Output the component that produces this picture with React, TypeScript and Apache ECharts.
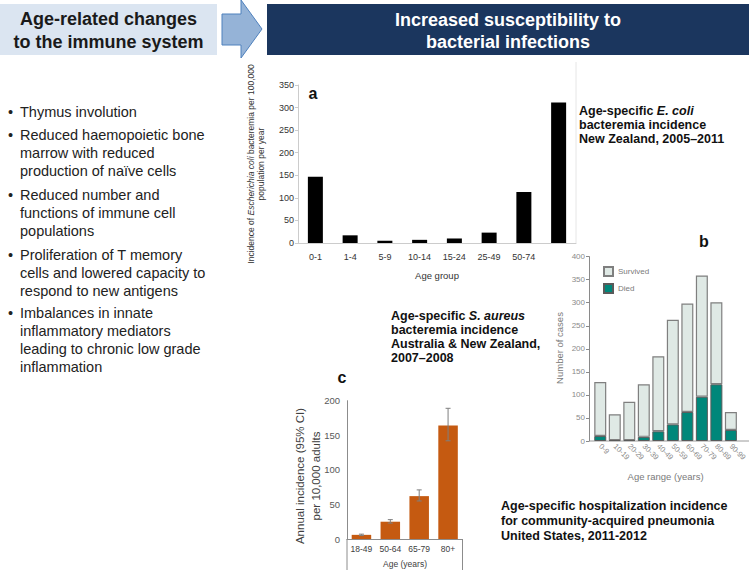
import React, { useEffect, useRef } from "react";
import * as echarts from "echarts";

const FONT = "'Liberation Sans', Arial, Helvetica, sans-serif";

// Chart a: E. coli bacteremia incidence, New Zealand
const aCategories = ["0-1", "1-4", "5-9", "10-14", "15-24", "25-49", "50-74", "75+"];
const aValues = [147, 17, 5, 7, 10, 23, 113, 311];
const aTicks = { min: 0, max: 350, interval: 50 };

// Chart b: community-acquired pneumonia hospitalizations
const bCategories = ["0-9", "10-19", "20-29", "30-39", "40-49", "50-59", "60-69", "70-79", "80-89", "90-99"];
const bDied = [11, 2, 2, 9, 21, 36, 63, 96, 123, 24];
const bSurvived = [117, 56, 83, 114, 163, 227, 235, 263, 178, 39];
const bTicks = { min: 0, max: 400, interval: 50 };

// Chart c: S. aureus bacteremia incidence
const cCategories = ["18-49", "50-64", "65-79", "80+"];
const cValues = [6, 25, 62, 164];
const cLow = [5, 23, 55, 142];
const cHigh = [7, 28, 71, 189];
const cTicks = { min: 0, max: 200, interval: 50 };

const bullets = [
  ["Thymus involution"],
  ["Reduced haemopoietic bone", "marrow with reduced", "production of naïve cells"],
  ["Reduced number and", "functions of immune cell", "populations"],
  ["Proliferation of T memory", "cells and lowered capacity to", "respond to new antigens"],
  ["Imbalances in innate", "inflammatory mediators", "leading to chronic low grade", "inflammation"],
];
const bulletTops = [102.5, 126, 186, 246, 304];

export default function App() {
  const ref = useRef<HTMLDivElement>(null);
  useEffect(() => {
    if (!ref.current) return;
    const chart = echarts.init(ref.current, undefined, { renderer: "svg" });

    const boldRich = {
      b: { fontFamily: FONT, fontWeight: "bold", fontSize: 12.5, fill: "#111", color: "#111", lineHeight: 14 },
      i: { fontFamily: FONT, fontWeight: "bold", fontStyle: "italic", fontSize: 12.5, fill: "#111", color: "#111", lineHeight: 14 },
    };

    const graphics: any[] = [
      // header boxes
      { type: "rect", shape: { x: 0, y: 4, width: 217, height: 51 }, style: { fill: "#dbe5f1" }, z: 1 },
      { type: "rect", shape: { x: 267, y: 4, width: 482, height: 51 }, style: { fill: "#1b365e" }, z: 1 },
      {
        type: "polygon",
        shape: { points: [[222, 14], [241, 14], [241, 0], [262, 29], [241, 58], [241, 45], [222, 45]] },
        style: { fill: "#95b3d7", stroke: "#4f81bd", lineWidth: 1 },
        z: 2,
      },
      {
        type: "text", x: 108.5, y: 30.5, z: 3,
        style: { text: "Age-related changes\nto the immune system", fontFamily: FONT, fontWeight: "bold", fontSize: 18, lineHeight: 22.5, fill: "#1a1a1a", align: "center", verticalAlign: "middle" },
      },
      {
        type: "text", x: 508, y: 31, z: 3,
        style: { text: "Increased susceptibility to\nbacterial infections", fontFamily: FONT, fontWeight: "bold", fontSize: 18, lineHeight: 22.5, fill: "#ffffff", align: "center", verticalAlign: "middle" },
      },
      // faint image edge of panel a
      { type: "line", shape: { x1: 576, y1: 62, x2: 576, y2: 243 }, style: { stroke: "#e6e6e6", lineWidth: 1 } },
      // panel labels
      { type: "text", x: 313, y: 93, z: 20, style: { text: "a", fontFamily: FONT, fontWeight: "bold", fontSize: 16, fill: "#111", align: "center", verticalAlign: "middle" } },
      { type: "text", x: 704, y: 241, z: 20, style: { text: "b", fontFamily: FONT, fontWeight: "bold", fontSize: 16, fill: "#111", align: "center", verticalAlign: "middle" } },
      { type: "text", x: 342, y: 377, z: 20, style: { text: "c", fontFamily: FONT, fontWeight: "bold", fontSize: 16, fill: "#111", align: "center", verticalAlign: "middle" } },
      // rotated y-axis name of a
      {
        type: "text", x: 256, y: 164, rotation: Math.PI / 2,
        style: {
          text: "{n|Incidence of }{i|Escherichia coli}{n| bacteremia per 100,000}\n{n|population per year}",
          align: "center", verticalAlign: "middle",
          rich: {
            n: { fontFamily: FONT, fontSize: 8.5, fill: "#333", color: "#333", lineHeight: 10 },
            i: { fontFamily: FONT, fontSize: 8.5, fontStyle: "italic", fill: "#333", color: "#333", lineHeight: 10 },
          },
        },
      },
      // rotated y-axis name of b
      {
        type: "text", x: 559, y: 348, rotation: Math.PI / 2,
        style: { text: "Number of cases", fontFamily: FONT, fontSize: 9.5, fill: "#7a7a7a", align: "center", verticalAlign: "middle" },
      },
      // rotated y-axis name of c
      {
        type: "text", x: 308, y: 476, rotation: Math.PI / 2,
        style: { text: "Annual incidence (95% CI)\nper 10,000 adults", fontFamily: FONT, fontSize: 11.5, lineHeight: 16, fill: "#404040", align: "center", verticalAlign: "middle" },
      },
      // c category table borders
      { type: "line", shape: { x1: 347, y1: 539, x2: 347, y2: 570 }, style: { stroke: "#8c8c8c", lineWidth: 1 } },
      { type: "line", shape: { x1: 462.5, y1: 539, x2: 462.5, y2: 570 }, style: { stroke: "#8c8c8c", lineWidth: 1 } },
      { type: "text", x: 405, y: 564, style: { text: "Age (years)", fontFamily: FONT, fontSize: 8.5, fill: "#404040", align: "center", verticalAlign: "middle" } },
      // b baseline extension
      { type: "line", shape: { x1: 589, y1: 441, x2: 749, y2: 441 }, style: { stroke: "#9a9a9a", lineWidth: 1 } },
      // description blocks
      {
        type: "text", x: 579, y: 103.5,
        style: { text: "{b|Age-specific }{i|E. coli}\n{b|bacteremia incidence}\n{b|New Zealand, 2005–2011}", align: "left", verticalAlign: "top", rich: boldRich },
      },
      {
        type: "text", x: 391, y: 308.5,
        style: { text: "{b|Age-specific }{i|S. aureus}\n{b|bacteremia incidence}\n{b|Australia & New Zealand,}\n{b|2007–2008}", align: "left", verticalAlign: "top", rich: boldRich },
      },
      {
        type: "text", x: 501, y: 498,
        style: { text: "{b|Age-specific hospitalization incidence}\n{b|for community-acquired pneumonia}\n{b|United States, 2011-2012}", align: "left", verticalAlign: "top", rich: { b: { ...boldRich.b, lineHeight: 15 } } },
      },
    ];

    bullets.forEach((lines, k) => {
      graphics.push({
        type: "text", x: 8, y: bulletTops[k],
        style: { text: "•", fontFamily: FONT, fontSize: 14.5, lineHeight: 18, fill: "#222", align: "left", verticalAlign: "top" },
      });
      graphics.push({
        type: "text", x: 20, y: bulletTops[k],
        style: { text: lines.join("\n"), fontFamily: FONT, fontSize: 14.5, lineHeight: 18, fill: "#222", align: "left", verticalAlign: "top" },
      });
    });

    const option: any = {
      animation: false,
      backgroundColor: "#ffffff",
      textStyle: { fontFamily: FONT },
      grid: [
        { left: 298, top: 85, width: 278, height: 158 },
        { left: 593, top: 256.6, width: 153.3, height: 184.4 },
        { left: 347, top: 400.7, width: 115.5, height: 138.3 },
      ],
      legend: {
        data: ["Survived", "Died"],
        orient: "vertical",
        left: 598, top: 261,
        itemWidth: 9, itemHeight: 9, itemGap: 6,
        icon: "rect",
        textStyle: { fontSize: 8, color: "#7a7a7a", fontFamily: FONT },
      },
      xAxis: [
        {
          type: "category", gridIndex: 0, data: aCategories,
          axisLine: { lineStyle: { color: "#cccccc" } }, axisTick: { show: false },
          axisLabel: { fontSize: 9, color: "#333", margin: 9, interval: 0, formatter: (v: string, i: number) => (i === aCategories.length - 1 ? "" : v) },
          name: "Age group", nameLocation: "middle", nameGap: 27, nameTextStyle: { fontSize: 9.5, color: "#333" },
        },
        {
          type: "category", gridIndex: 1, data: bCategories,
          axisLine: { show: false }, axisTick: { show: false },
          axisLabel: { fontSize: 7.5, color: "#888", margin: 4, rotate: -45, interval: 0 },
          name: "Age range (years)", nameLocation: "middle", nameGap: 30, nameTextStyle: { fontSize: 9.5, color: "#7a7a7a" },
        },
        {
          type: "category", gridIndex: 2, data: cCategories,
          axisLine: { lineStyle: { color: "#8c8c8c" } }, axisTick: { show: false },
          axisLabel: { fontSize: 8.5, color: "#404040", margin: 5, interval: 0 },
        },
      ],
      yAxis: [
        {
          type: "value", gridIndex: 0, ...aTicks,
          axisLine: { show: true, lineStyle: { color: "#cccccc" } },
          axisTick: { show: true, length: 3, lineStyle: { color: "#cccccc" } },
          axisLabel: { fontSize: 9, color: "#333", margin: 4 },
          splitLine: { show: false },
        },
        {
          type: "value", gridIndex: 1, ...bTicks, offset: 4,
          axisLine: { show: true, lineStyle: { color: "#8a8a8a" } },
          axisTick: { show: true, length: 3, lineStyle: { color: "#8a8a8a" } },
          axisLabel: { fontSize: 8, color: "#8a8a8a", margin: 4 },
          splitLine: { show: false },
        },
        {
          type: "value", gridIndex: 2, ...cTicks,
          axisLine: { show: true, lineStyle: { color: "#8c8c8c" } },
          axisTick: { show: false },
          axisLabel: { fontSize: 9.5, color: "#595959", margin: 7 },
          splitLine: { show: false },
        },
      ],
      series: [
        {
          type: "bar", xAxisIndex: 0, yAxisIndex: 0, data: aValues, barWidth: 15,
          itemStyle: { color: "#000000" },
        },
        {
          name: "Died", type: "bar", xAxisIndex: 1, yAxisIndex: 1, stack: "b", data: bDied, barWidth: 12,
          itemStyle: { color: "#00877a", borderColor: "#5a5a5a", borderWidth: 1 },
        },
        {
          name: "Survived", type: "bar", xAxisIndex: 1, yAxisIndex: 1, stack: "b", data: bSurvived, barWidth: 12,
          itemStyle: { color: "#dfe9e5", borderColor: "#7f7f7f", borderWidth: 1.2 },
        },
        {
          type: "bar", xAxisIndex: 2, yAxisIndex: 2, data: cValues, barWidth: 19.5,
          itemStyle: { color: "#c55a11" },
        },
        {
          type: "custom", xAxisIndex: 2, yAxisIndex: 2, z: 5,
          data: cCategories.map((c, i) => [i, cLow[i], cHigh[i]]),
          encode: { x: 0, y: [1, 2] },
          renderItem: (params: any, api: any) => {
            const x = api.value(0);
            const lo = api.coord([x, api.value(1)]);
            const hi = api.coord([x, api.value(2)]);
            const st = { stroke: "#7f7f7f", lineWidth: 1 };
            return {
              type: "group",
              children: [
                { type: "line", shape: { x1: lo[0], y1: lo[1], x2: hi[0], y2: hi[1] }, style: st },
                { type: "line", shape: { x1: hi[0] - 2.5, y1: hi[1], x2: hi[0] + 2.5, y2: hi[1] }, style: st },
                { type: "line", shape: { x1: lo[0] - 2.5, y1: lo[1], x2: lo[0] + 2.5, y2: lo[1] }, style: st },
              ],
            };
          },
        },
      ],
      graphic: graphics,
    };

    chart.setOption(option);
    return () => chart.dispose();
  }, []);

  return (
    <div
      ref={ref}
      style={{ position: "fixed", left: 0, top: 0, width: 749, height: 570, background: "#fff" }}
    />
  );
}
